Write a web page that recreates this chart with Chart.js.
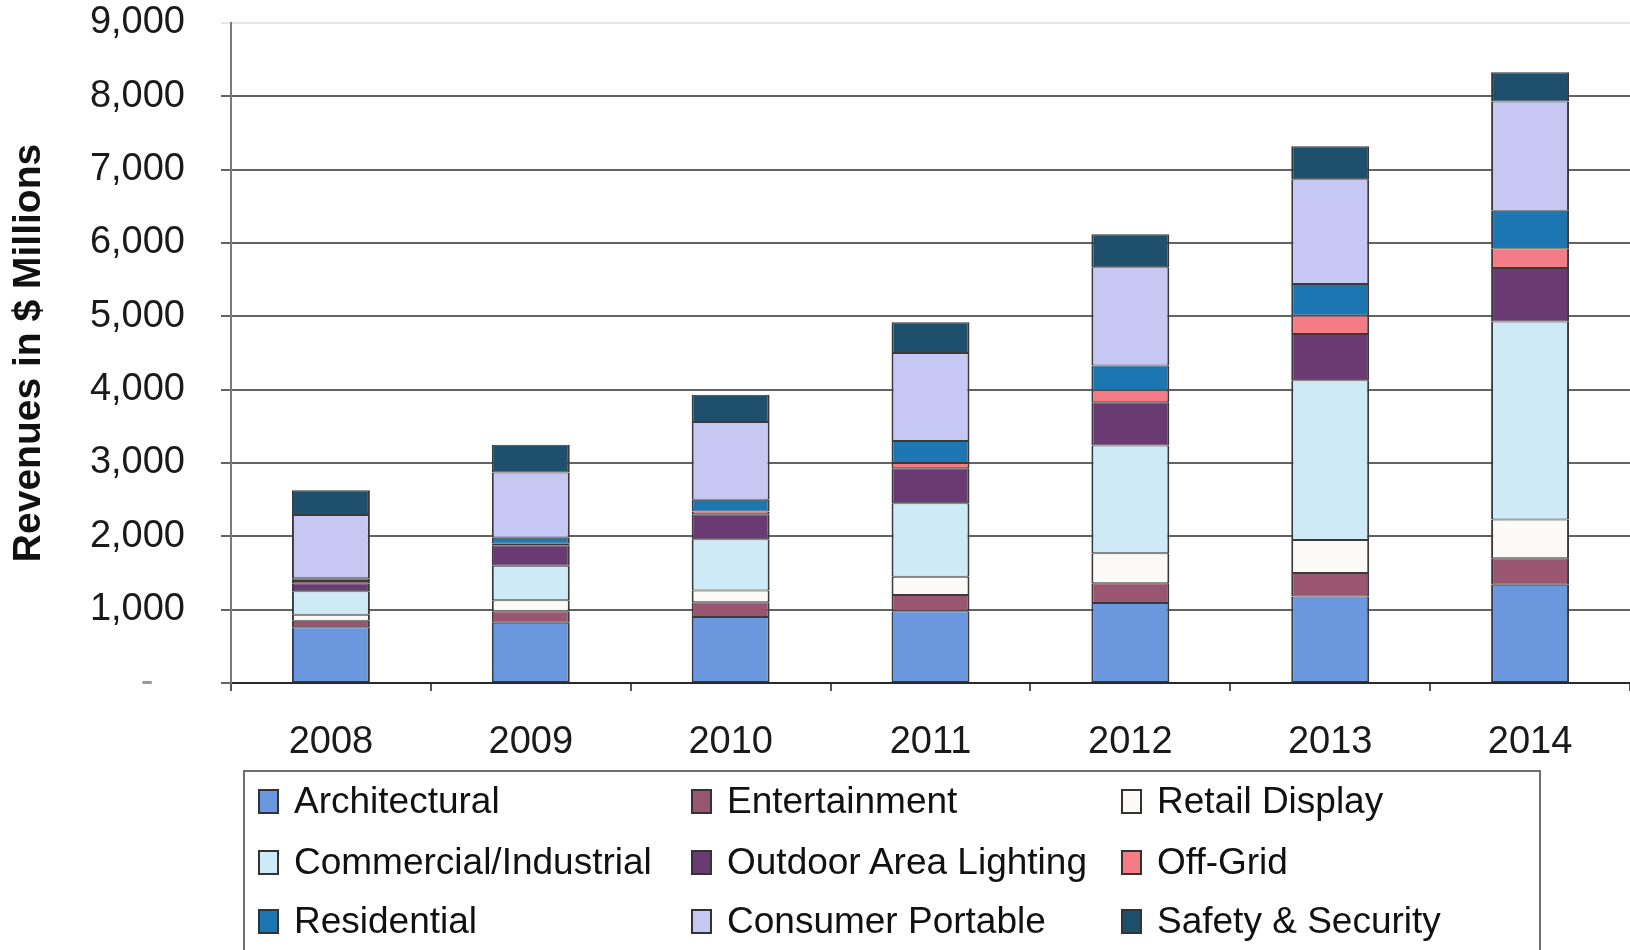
<!DOCTYPE html>
<html lang="en">
<head>
<meta charset="UTF-8">
<title>LED Lighting Revenues by Application</title>
<script src="https://cdn.jsdelivr.net/npm/chart.js@4.4.0/dist/chart.umd.min.js"></script>
<style>
    html, body { margin: 0; padding: 0; background: #fff; }
    #wrap { position: relative; width: 1630px; height: 950px; overflow: hidden; }
    #legend {
        position: absolute; left: 243px; top: 770px; width: 1298px; height: 200px;
        border: 2px solid #6e6e6e; box-sizing: border-box;
    }
    .item {
        position: absolute; display: flex; align-items: center; height: 44px;
        font-family: "Liberation Sans", Arial, sans-serif; font-size: 37px; color: #111;
        white-space: nowrap;
    }
    .swatch { width: 17px; height: 21px; border: 2px solid #333; margin-right: 15px; }
</style>
</head>
<body>
<div id="wrap">
    <canvas id="chart" width="1630" height="950"></canvas>
    <div id="legend"></div>
</div>
<script>
// revenue by application, $ millions
var years = ['2008', '2009', '2010', '2011', '2012', '2013', '2014'];
var architectural = [760, 820, 900, 980, 1090, 1180, 1340];
var entertainment = [90, 160, 200, 220, 270, 320, 360];
var retailDisplay = [80, 150, 160, 250, 410, 450, 530];
var commercial    = [320, 470, 700, 1000, 1470, 2180, 2700];
var outdoorArea   = [110, 280, 340, 480, 590, 630, 730];
var offGrid       = [30, 20, 40, 70, 160, 250, 270];
var residential   = [40, 80, 160, 300, 340, 430, 510];
var consumerPort  = [860, 890, 1060, 1200, 1340, 1430, 1490];
var safety        = [340, 380, 370, 420, 450, 450, 400];

var seriesNames = ['Architectural', 'Entertainment', 'Retail Display',
    'Commercial/Industrial', 'Outdoor Area Lighting', 'Off-Grid',
    'Residential', 'Consumer Portable', 'Safety & Security'];
var seriesData = [architectural, entertainment, retailDisplay, commercial,
    outdoorArea, offGrid, residential, consumerPort, safety];
var seriesColors = ['#6a97dd', '#9a5670', '#fbfaf7', '#cdeaf6',
    '#6a3b72', '#f47c86', '#1c76b1', '#c6c7f3', '#1e4f6c'];

var yMax = 9000;
var yStep = 1000;

var FONT = '"Liberation Sans", Arial, sans-serif';

var datasets = seriesNames.map(function (name, i) {
    return {
        label: name,
        data: seriesData[i],
        backgroundColor: seriesColors[i],
        borderColor: '#3a3a3a',
        borderWidth: { top: 1, bottom: 1, left: 2, right: 2 },
        borderSkipped: false,
        categoryPercentage: 1.0,
        barPercentage: 0.39
    };
});

var ctx = document.getElementById('chart').getContext('2d');
var chart = new Chart(ctx, {
    type: 'bar',
    data: { labels: years, datasets: datasets },
    options: {
        responsive: false,
        animation: false,
        layout: { padding: { top: 23, right: 0, bottom: 0, left: 0 } },
        plugins: {
            legend: { display: false },
            tooltip: { enabled: false }
        },
        scales: {
            x: {
                stacked: true,
                grid: { drawOnChartArea: false, drawTicks: true, tickLength: 8, color: '#555', lineWidth: 2 },
                border: { color: '#2a2a2a', width: 2 },
                ticks: {
                    font: { family: FONT, size: 38 },
                    color: '#1a1a1a',
                    padding: 29,
                    maxRotation: 0
                },
                afterFit: function (scale) { scale.height = 267; }
            },
            y: {
                stacked: true,
                min: 0,
                max: yMax,
                ticks: {
                    stepSize: yStep,
                    font: { family: FONT, size: 38 },
                    color: function (c) { return c.tick.value === 0 ? '#999' : '#1a1a1a'; },
                    padding: 36,
                    callback: function (v) { return v === 0 ? '-   ' : v.toLocaleString('en-US'); }
                },
                grid: {
                    color: function (c) { return c.tick.value === yMax ? 'rgba(90,90,90,0.15)' : 'rgba(60,60,60,0.8)'; },
                    lineWidth: 2,
                    tickLength: 10
                },
                border: { color: '#7a7a7a', width: 2 },
                title: {
                    display: true,
                    text: 'Revenues in $ Millions',
                    font: { family: FONT, size: 39, weight: 'bold' },
                    color: '#111',
                    padding: { top: 6, bottom: 0 }
                },
                afterFit: function (scale) {
                    scale.width = 231;
                    // the 9,000 label may sit over the top margin
                    scale.paddingTop = 0;
                    scale.paddingBottom = 0;
                }
            }
        }
    }
});

// legend laid out in three columns, same order as the stack
var legendEl = document.getElementById('legend');
var colLeft = [13, 446, 876];
var rowTop = [7, 68, 127];
chart.data.datasets.forEach(function (ds, i) {
    var item = document.createElement('div');
    item.className = 'item';
    item.style.left = colLeft[i % 3] + 'px';
    item.style.top = rowTop[Math.floor(i / 3)] + 'px';
    var sw = document.createElement('span');
    sw.className = 'swatch';
    sw.style.background = ds.backgroundColor;
    item.appendChild(sw);
    item.appendChild(document.createTextNode(ds.label));
    legendEl.appendChild(item);
});
</script>
</body>
</html>
